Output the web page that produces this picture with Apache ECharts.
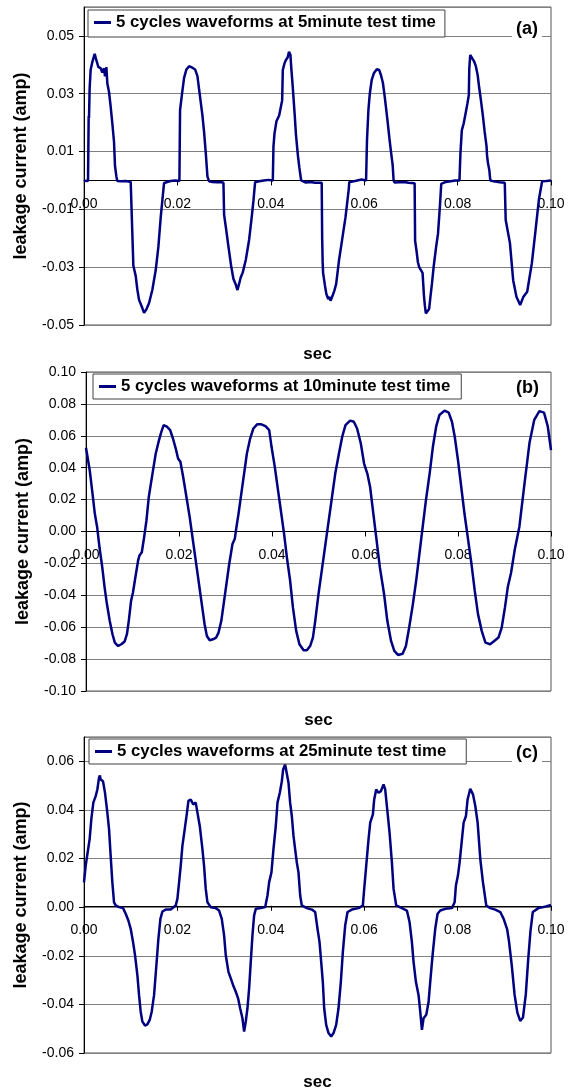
<!DOCTYPE html>
<html>
<head>
<meta charset="utf-8">
<script src="https://cdn.jsdelivr.net/npm/echarts@6/dist/echarts.min.js"></script>
<style>
  html, body { margin: 0; padding: 0; background: #fff; }
  #chart { width: 571px; height: 1092px; }
</style>
</head>
<body>
<div id="chart"></div>
<script>
// traced waveforms, [time in ms, current in mA]
const wave5min = [
  [0,-0.1],[0.86,-0.2],[1.0,22.2],[1.07,21.5],[1.21,32],[1.43,38.4],[1.79,41],[2.29,43.8],[2.64,41.6],[3.07,39.3],[3.57,38.8],[3.93,37.3],[4.29,38.8],[4.5,36],[4.79,39.2],[5.0,33.5],[5.36,30.6],[5.71,25.5],[6.07,19.7],[6.43,13.3],[6.64,5],[6.93,1.4],[7.14,-0.2],[8.0,-0.3],[9.0,-0.2],[10.0,-0.5],[10.36,-0.7],
  [10.57,-29.5],[11.07,-33],[11.43,-37.8],[11.79,-41.3],[12.36,-43.6],[12.86,-45.8],[13.36,-44.6],[13.93,-42.4],[14.64,-37.8],[15.36,-31],[15.93,-22.9],[16.43,-12.7],[16.79,-6.7],[17.14,-0.9],[17.5,-0.3],[18.5,-0.2],[19.5,0],[20.43,-0.2],
  [20.57,24.3],[21.0,30.1],[21.43,35.5],[21.93,38.4],[22.5,39.5],[23.21,39],[23.79,38.4],[24.29,36.1],[24.64,31.6],[25.36,22.5],[25.71,16.8],[26.07,9.6],[26.43,1.4],[26.79,-0.3],[27.5,-0.5],[28.5,-0.6],[29.43,-0.6],[29.86,-0.8],
  [30.0,-11.8],[30.36,-16],[30.93,-22.9],[31.5,-29.5],[32.0,-34.1],[32.5,-36],[32.86,-37.9],[33.21,-35.8],[33.57,-33.5],[34.0,-31.8],[34.64,-27.5],[35.36,-20.5],[35.93,-12.4],[36.29,-6.9],[36.64,-0.6],[37.5,-0.3],[38.5,0],[39.5,0.2],[40.43,0],
  [40.57,11.8],[40.79,16.2],[41.21,20.5],[41.79,22.5],[42.21,23.1],[42.43,27.7],[42.57,38.2],[42.93,40.5],[43.21,41.6],[43.6,42.5],[43.9,44.5],[44.2,43.5],[44.4,38.6],[44.7,32.4],[45.1,23.1],[45.4,15.6],[45.8,8.7],[46.1,4.6],[46.5,0],[46.7,-0.6],[47.5,-0.7],[48.5,-0.5],[49.5,-0.8],[50.9,-0.8],
  [51.0,-20],[51.1,-28],[51.2,-32],[51.6,-36.4],[51.9,-39.3],[52.3,-41],[52.6,-40.3],[52.8,-41.6],[53.2,-40],[53.6,-38.2],[54.0,-35.8],[54.6,-27.7],[55.3,-20.2],[56.0,-12.7],[56.7,-2.9],[56.8,-0.6],[57.5,-0.4],[58.5,0],[59.4,0.3],[60.4,0],
  [60.6,14],[60.9,24.3],[61.2,30],[61.6,34.7],[62.1,37.2],[62.7,38.5],[63.2,38.2],[63.6,36.4],[64.0,33.8],[64.4,28.9],[64.9,22],[65.4,14.6],[65.7,10.4],[66.1,5.2],[66.3,0],[66.5,-0.7],[67.5,-0.6],[68.5,-0.5],[69.5,-0.8],[70.8,-1],
  [70.9,-20.8],[71.2,-24.3],[71.5,-28.3],[71.8,-30.1],[72.1,-30.6],[72.5,-32],[72.8,-40],[73.0,-43.4],[73.2,-46],[73.6,-46.6],[73.9,-44.5],[74.2,-40],[74.5,-35.8],[74.9,-29.5],[75.4,-23],[75.8,-18.5],[76.2,-9.2],[76.5,-1.2],[77.5,-0.5],[78.5,-0.3],[79.5,0],[80.4,0],
  [80.6,9.2],[80.9,17.3],[81.3,19.7],[81.7,23.1],[82.1,26.6],[82.4,29.5],[82.5,38.7],[82.7,43.4],[83.1,43],[83.5,41.3],[83.9,39.6],[84.3,36.4],[84.6,32.4],[85.0,27.7],[85.4,22.5],[85.8,16.8],[86.2,11.8],[86.3,8.7],[86.5,6],[86.8,3.5],[87.0,0],[87.3,-0.6],[88.0,-0.4],[89.0,-0.6],[90.1,-0.8],
  [90.3,-13.7],[91.2,-21.6],[91.9,-34.5],[92.6,-40.2],[93.4,-43.1],[94.1,-40.2],[94.9,-38.5],[95.9,-28.6],[96.7,-17.1],[97.4,-6.7],[98.1,-0.3],[99.0,-0.2],[100,0]
];

const wave10min = [
  [0,52.5],[0.8,38.4],[1.4,23.7],[1.9,11.1],[2.4,2.7],[2.9,-9.9],[3.5,-22.5],[4.0,-35],[4.5,-45.5],[5.1,-56],[5.7,-64.4],[6.2,-69.7],[6.9,-71.8],[7.6,-70.7],[8.3,-69],[8.8,-64.4],[9.2,-56],[9.7,-43.4],[10.1,-38.2],[10.5,-30.9],[11.2,-18.3],[11.5,-15.1],[12.0,-13],[12.5,-3.6],[13.0,6.9],[13.5,21.6],[14.3,36.3],[15.0,48.9],[15.7,57.3],[16.2,62.5],[16.7,66.7],[17.4,65.7],[18.1,63.6],[18.7,58.3],[19.3,52],[19.8,45.8],[20.3,43.7],
  [20.9,34.2],[21.6,21.6],[22.3,9],[22.9,-3.6],[23.6,-18.3],[24.3,-32.9],[25.0,-47.6],[25.5,-58.1],[26.0,-65.5],[26.6,-68.2],[27.3,-67.6],[28.0,-66.5],[28.5,-63.4],[29.1,-56],[29.6,-45.5],[30.2,-32.9],[30.8,-20.4],[31.5,-7.8],[32.0,-4.6],[32.3,1.7],[32.8,11.1],[33.4,23.7],[34.0,36.3],[34.6,48.9],[35.3,58.3],[36.0,64.6],[36.8,67.2],[37.7,67.2],[38.6,66.1],[39.4,63.6],
  [39.9,53.1],[40.6,40.5],[41.3,25.8],[42.0,11.1],[42.6,-1.5],[43.2,-16.2],[43.9,-30.9],[44.5,-47.6],[45.2,-62.3],[45.9,-70.7],[46.8,-74.5],[47.5,-74.5],[48.2,-71.8],[48.8,-66.5],[49.3,-56],[50.0,-39.2],[50.8,-22.5],[51.5,-7.8],[52.2,6.9],[52.9,21.6],[53.6,36.3],[54.4,48.9],[55.1,59.4],[55.8,66.7],[56.8,69.5],[57.6,68.8],[58.3,64.6],[59.1,55.2],
  [59.8,42.6],[60.5,36.3],[61.1,27.9],[61.8,11.1],[62.5,-5.7],[63.2,-22.5],[64.1,-39.2],[64.8,-56],[65.6,-68.6],[66.3,-74.9],[67.1,-77.4],[68.1,-76.6],[68.8,-71.8],[69.5,-60.2],[70.3,-45.5],[71.0,-30.9],[71.7,-14.1],[72.4,2.7],[73.1,19.5],[73.9,36.3],[74.6,53.1],[75.3,65.7],[76.0,73],[77.1,75.8],[78.0,74.5],[78.7,68.8],[79.3,59.4],
  [80.0,44.7],[80.7,27.9],[81.4,11.1],[82.2,-5.7],[82.9,-20.4],[83.6,-37.1],[84.3,-51.8],[85.1,-62.3],[85.9,-69.7],[86.9,-70.7],[87.8,-68.6],[88.7,-66.5],[89.4,-60.2],[90.1,-47.6],[90.7,-35],[91.4,-26],[92.2,-11.5],[93.2,3],[94.3,30],[95.4,56],[96.4,70],[97.5,75.5],[98.5,74.5],[99.3,66],[100,51]
];

const wave25min = [
  [0,10.2],[0.36,17],[0.57,19.8],[0.93,20.5],[1.21,28],[1.57,36.2],[2.0,43],[2.5,45.7],[2.86,48.4],[3.21,53.2],[3.4,54.2],[3.57,52.5],[4.07,51.8],[4.5,47],[5.0,38.9],[5.36,32.1],[5.71,21.1],[6.07,10.2],[6.43,2],[6.79,0.7],[7.5,0],[8.36,-0.4],[8.93,-2.7],[9.5,-5.5],[10.0,-8.9],[10.5,-14.3],[10.93,-19.8],[11.43,-28],[11.79,-36.2],[12.14,-43],[12.5,-47.1],[13.07,-48.7],[13.57,-48.2],[14.07,-46.4],[14.5,-43],[15.0,-36.2],[15.5,-23.9],[15.93,-13],[16.36,-4.8],[16.79,-1.8],[17.5,-1],[18.57,-1],[19.64,0.7],
  [20.0,3.4],[20.36,10.2],[20.71,17],[21.07,25.2],[21.57,32.1],[22.0,38.2],[22.36,43.7],[22.86,44.3],[23.36,42.3],[23.93,43],[24.29,38.9],[24.79,33.4],[25.36,23.9],[25.71,17],[26.07,7.5],[26.43,2],[27.14,0],[28.21,-0.4],[28.93,-1.4],[29.5,-4.8],[30.0,-11.6],[30.36,-19.8],[30.93,-26.6],[31.43,-29.3],[31.93,-32.1],[32.5,-34.8],[33.0,-37.5],[33.43,-41.6],[33.93,-45.7],[34.29,-51.2],[34.64,-47.1],[35.0,-41.6],[35.36,-33.4],[35.71,-22.5],[36.07,-11.6],[36.43,-3.4],[36.79,-0.7],[37.86,-0.4],[38.79,0],
  [39.29,4.8],[39.64,10.2],[40.14,14.3],[40.57,23.9],[41.07,33.4],[41.43,43],[41.93,47.1],[42.36,51.8],[42.64,56.6],[43.07,58.7],[43.43,58],[43.79,51.2],[44.14,43],[44.5,37.5],[44.86,29.3],[45.21,23.9],[45.57,18.4],[45.93,14.3],[46.29,4.8],[46.64,0.7],[47.71,-0.4],[48.79,-1],[49.5,-2],[50.0,-8.9],[50.43,-14.3],[50.79,-22.5],[51.14,-30.7],[51.43,-41.6],[51.86,-48.4],[52.36,-51.8],[52.93,-53.2],[53.43,-51.8],[54.0,-48.4],[54.5,-41.6],[55.0,-30.7],[55.43,-18.4],[55.93,-7.5],[56.43,-2],[57.36,-1],[58.79,-0.4],[59.71,0.7],
  [60.0,7.5],[60.43,17],[60.93,28],[61.29,34.8],[61.86,38.2],[62.14,44.3],[62.57,48.4],[63.07,47.1],[63.57,47.7],[64.14,50.5],[64.5,48.4],[64.86,41.6],[65.43,30.7],[65.93,18.4],[66.29,7.5],[66.86,0.7],[68.07,-0.4],[69.14,-1.4],[69.71,-6.1],[70.21,-14.3],[70.57,-22.5],[71.07,-30.7],[71.64,-36.2],[72.0,-43],[72.36,-50.5],[72.71,-45.7],[73.29,-44.3],[73.79,-38.9],[74.14,-30.7],[74.64,-19.8],[75.21,-8.9],[75.71,-2.7],[76.29,-1.4],[77.36,-0.7],[78.79,-0.4],
  [79.36,2],[79.64,8.9],[80.07,13],[80.43,18.4],[80.79,25.2],[81.29,34.8],[81.79,37.5],[82.14,44.3],[82.71,48.7],[83.29,46.4],[83.79,41.6],[84.29,34.8],[84.86,19.8],[85.43,10.2],[86.14,0.7],[87.0,-0.4],[88.07,-1],[89.14,-2],[89.86,-4.8],[90.6,-9],[91.0,-14],[91.6,-24],[92.2,-36],[92.8,-43.4],[93.4,-46.8],[94.0,-45.4],[94.6,-36],[95.1,-22],[95.6,-10],[96.1,-2],[97.3,-0.4],[98.9,0.3],[100,0.9]
];

const seriesNames = [
  '5 cycles waveforms at 5minute test time',
  '5 cycles waveforms at 10minute test time',
  '5 cycles waveforms at 25minute test time'
];
const panelTags = ['(a)', '(b)', '(c)'];
const yMins = [-0.05, -0.10, -0.06];
const yMaxs = [0.06, 0.10, 0.07];

const waves = [wave5min, wave10min, wave25min];
const FONT = '"Liberation Sans", Arial, sans-serif';

// plot boxes
const grids = [
  { left: 84, top: 7, width: 467, height: 318 },
  { left: 86, top: 372, width: 465, height: 319 },
  { left: 84, top: 737, width: 467, height: 319 }
];
const legendPos = [
  { left: 88, top: 10, padRight: 9, padBottom: 5 },
  { left: 93, top: 374, padRight: 11, padBottom: 3 },
  { left: 89, top: 739, padRight: 20, padBottom: 3 }
];
const tagTops = [18, 377, 742];

const chart = echarts.init(document.getElementById('chart'));

const xAxes = [];
const yAxes = [];
const series = [];
const legends = [];
const graphics = [];

grids.forEach((g, i) => {
  // lift the labelled x axis from the bottom edge up to y = 0
  const zeroLift = g.height * (0 - yMins[i]) / (yMaxs[i] - yMins[i]);
  xAxes.push({
    type: 'value', gridIndex: i, min: 0, max: 0.1, interval: 0.02,
    position: 'bottom', offset: -zeroLift,
    axisLine: { onZero: false, lineStyle: { color: '#000', width: 1 } },
    axisTick: { show: true, length: 5, lineStyle: { color: '#000' } },
    axisLabel: { margin: 17, color: '#000', fontSize: 14, fontFamily: FONT, formatter: v => v.toFixed(2) },
    splitLine: { show: false }
  });
  // bottom axis only carrying the "sec" title
  xAxes.push({
    type: 'value', gridIndex: i, min: 0, max: 0.1, position: 'bottom',
    axisLine: { show: false, onZero: false },
    axisTick: { show: false }, axisLabel: { show: false }, splitLine: { show: false },
    name: 'sec', nameLocation: 'middle', nameGap: 21,
    nameTextStyle: { color: '#000', fontWeight: 'bold', fontSize: 17, fontFamily: FONT }
  });
  yAxes.push({
    type: 'value', gridIndex: i, min: yMins[i], max: yMaxs[i], interval: 0.02,
    axisLine: { show: true, onZero: false, lineStyle: { color: '#000' } },
    axisTick: { show: true, length: 5, lineStyle: { color: '#000' } },
    axisLabel: { margin: 10, color: '#000', fontSize: 14, fontFamily: FONT, showMaxLabel: i === 1,
      formatter: v => v.toFixed(2) },
    splitLine: { show: true, lineStyle: { color: '#808080', width: 1 } },
    name: 'leakage current (amp)', nameLocation: 'middle', nameGap: 54,
    nameTextStyle: { color: '#000', fontWeight: 'bold', fontSize: 18, fontFamily: FONT }
  });
  series.push({
    type: 'line', name: seriesNames[i], xAxisIndex: i * 2, yAxisIndex: i,
    data: waves[i].map(p => [p[0] / 1000, p[1] / 1000]),
    symbol: 'none', showSymbol: false,
    lineStyle: { color: '#000080', width: 2.5 },
    itemStyle: { color: '#000080' },
    clip: true
  });
  legends.push({
    data: [{ name: seriesNames[i], icon: 'rect' }],
    left: legendPos[i].left, top: legendPos[i].top,
    padding: [3, legendPos[i].padRight, legendPos[i].padBottom, 6], itemWidth: 17, itemHeight: 3,
    backgroundColor: '#fff', borderColor: '#404040', borderWidth: 1,
    itemStyle: { color: '#000080' },
    textStyle: { color: '#000', fontWeight: 'bold', fontSize: 16.8, fontFamily: FONT, lineHeight: 19 }
  });
  graphics.push({
    type: 'text', left: 512, top: tagTops[i], z: 100,
    style: { text: panelTags[i], font: 'bold 18px ' + FONT, fill: '#000', backgroundColor: '#fff', padding: [2, 4, 2, 4] }
  });
});

chart.setOption({
  animation: false,
  backgroundColor: '#fff',
  grid: grids.map(g => Object.assign({ show: true, borderColor: '#555', borderWidth: 1, backgroundColor: 'transparent' }, g)),
  xAxis: xAxes,
  yAxis: yAxes,
  legend: legends,
  graphic: graphics,
  series: series
});
</script>
</body>
</html>
